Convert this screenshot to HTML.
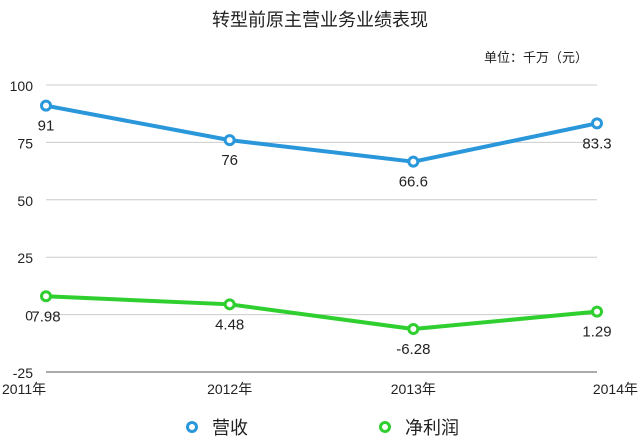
<!DOCTYPE html>
<html><head><meta charset="utf-8"><style>
html,body{margin:0;padding:0;background:#fff;}
svg{display:block;font-family:"Liberation Sans","Noto Sans CJK SC",sans-serif;}
</style></head><body>
<svg id="c" width="640" height="447">
<text x="320" y="26" text-anchor="middle" font-size="18" fill="#222">转型前原主营业务业绩表现</text>
<text x="588" y="62" text-anchor="end" font-size="13" fill="#222">单位：千万（元）</text>
<g id="grid"></g><g id="series"></g>
<g>
<circle cx="192" cy="427" r="4.5" fill="#fff" stroke="#2a97db" stroke-width="3"/>
<text x="212" y="434" font-size="18" fill="#222">营收</text>
<circle cx="385" cy="427" r="4.5" fill="#fff" stroke="#2fcf2f" stroke-width="3"/>
<text x="405" y="434" font-size="18" fill="#222">净利润</text>
</g>
</svg>
<script>
const categories=["2011年","2012年","2013年","2014年"];
const revenue=[91,76,66.6,83.3];
const profit=[7.98,4.48,-6.28,1.29];
const yTicks=[100,75,50,25,0,-25];
const NS="http://www.w3.org/2000/svg";
const x0=46,x1=597,yTop=85,yBot=372,vMax=100,vMin=-25;
function xs(i){return x0+(x1-x0)*i/(categories.length-1);}
function ys(v){return yBot-(v-vMin)/(vMax-vMin)*(yBot-yTop);}
function mk(t,a,p){const e=document.createElementNS(NS,t);for(const k in a)e.setAttribute(k,a[k]);p.appendChild(e);return e;}
const g=document.getElementById('grid'),s=document.getElementById('series');
yTicks.forEach(v=>{
 const l=mk('line',{x1:x0,x2:x1,y1:ys(v),y2:ys(v),stroke:v===vMin?'#555':'#ccc','stroke-width':1},g);
 
 
 const t=mk('text',{x:33,y:ys(v)+6,'text-anchor':'end','font-size':14,fill:'#222'},g);t.textContent=v;
 
 
});
categories.forEach((c,i)=>{
 const anchor=i===0?'start':(i===categories.length-1?'end':'middle');
 const t=mk('text',{x:i===0?2:(i===categories.length-1?638:xs(i)),y:394,'text-anchor':anchor,'font-size':14,fill:'#222'},g);t.textContent=c;
 
 
});
function draw(vals,color,name){
 const p=mk('polyline',{points:vals.map((v,i)=>xs(i)+','+ys(v)).join(' '),fill:'none',stroke:color,'stroke-width':4,'stroke-linejoin':'round'},s);
 
 
 vals.forEach((v,i)=>{
  const c=mk('circle',{cx:xs(i),cy:ys(v),r:4.5,fill:'#fff',stroke:color,'stroke-width':3},s);
  
  
  const t=mk('text',{x:xs(i),y:ys(v)+25,'text-anchor':'middle','font-size':15,fill:'#222'},s);t.textContent=v;
  
  
 });
}
draw(revenue,'#2a97db','revenue');
draw(profit,'#2fcf2f','profit');
</script>
</body></html>
